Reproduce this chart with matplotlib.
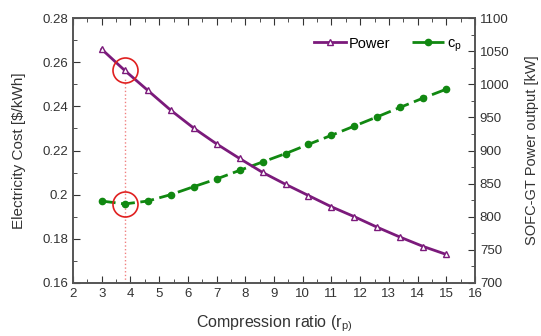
import matplotlib.pyplot as plt
from matplotlib.ticker import MultipleLocator, FuncFormatter

plt.rcParams['font.family'] = ['Liberation Sans', 'DejaVu Sans']

# compression ratio values
rp = [3.0, 3.8, 4.6, 5.4, 6.2, 7.0, 7.8, 8.6, 9.4, 10.2, 11.0, 11.8, 12.6, 13.4, 14.2, 15.0]

# SOFC-GT power output [kW]
power = [1053, 1021, 991, 961, 934, 910, 888, 867, 849, 832, 815, 800, 784, 769, 755, 743]

# electricity cost [$/kWh]
cost = [0.1971, 0.1958, 0.1971, 0.2000, 0.2036, 0.2071, 0.2110, 0.2148, 0.2186,
        0.2228, 0.2269, 0.2311, 0.2353, 0.2396, 0.2438, 0.2478]

# highlighted optimum
opt_idx = 1

fig = plt.figure(figsize=(5.41, 3.36), dpi=100)
ax = fig.add_axes([0.135, 0.158, 0.743, 0.788])
ax2 = ax.twinx()

purple = '#7b1a7b'
green = '#118811'

# dotted marker line at the optimum (drawn first, under the curves)
ax.plot([rp[opt_idx], rp[opt_idx]], [0.16, 0.2535], color='#f08080',
        lw=1.0, ls=':', zorder=1)

# green cost curve on the left axis
l_cp, = ax.plot(rp, cost, color=green, lw=2, ls=(0, (5, 2)), marker='o', ms=4.5,
                label='c$_\\mathregular{p}$', zorder=3)

# purple power curve on the right axis
l_pw, = ax2.plot(rp, power, color=purple, lw=2, marker='^', ms=5, mfc='white',
                 mec=purple, mew=1, label='Power', zorder=3)

# circles at the optimum
ax2.plot(rp[opt_idx], power[opt_idx], marker='o', ms=18, mfc='none', mec='#e02020',
         mew=1.2, ls='none', zorder=4)
ax.plot(rp[opt_idx], cost[opt_idx], marker='o', ms=18, mfc='none', mec='#e02020',
        mew=1.2, ls='none', zorder=4)

ax.set_xlim(2, 16)
ax.set_ylim(0.16, 0.28)
ax2.set_ylim(700, 1100)

ax.xaxis.set_major_locator(MultipleLocator(1))
ax.xaxis.set_minor_locator(MultipleLocator(0.5))
ax.yaxis.set_major_locator(MultipleLocator(0.02))
ax.yaxis.set_minor_locator(MultipleLocator(0.01))
ax.yaxis.set_major_formatter(FuncFormatter(lambda v, p: '%g' % round(v, 3)))
ax2.yaxis.set_major_locator(MultipleLocator(50))
ax2.yaxis.set_minor_locator(MultipleLocator(25))

ax.tick_params(which='both', direction='in', top=True, labelsize=9.5, colors='#333333')
ax.tick_params(which='major', length=5)
ax.tick_params(which='minor', length=3)
ax2.tick_params(which='both', direction='in', labelsize=9.5, colors='#333333')
ax2.tick_params(which='major', length=5)
ax2.tick_params(which='minor', length=3)

for a in (ax, ax2):
    for s in a.spines.values():
        s.set_color('#555555')
        s.set_linewidth(1.2)

ax.set_xlabel('Compression ratio (r$_\\mathregular{p)}$', fontsize=11.5, color='#333333',
              labelpad=10)
ax.set_ylabel('Electricity Cost [$/kWh]', fontsize=11, color='#333333', labelpad=12)
ax2.set_ylabel('SOFC-GT Power output [kW]', fontsize=10.5, color='#333333', labelpad=11)

ax2.legend(handles=[l_pw, l_cp], loc='upper right', ncol=2, frameon=False, fontsize=10.5,
           handlelength=2.2, columnspacing=1.5, handletextpad=0.2,
           bbox_to_anchor=(1.0, 0.98))

fig.savefig('out.png', dpi=100)
